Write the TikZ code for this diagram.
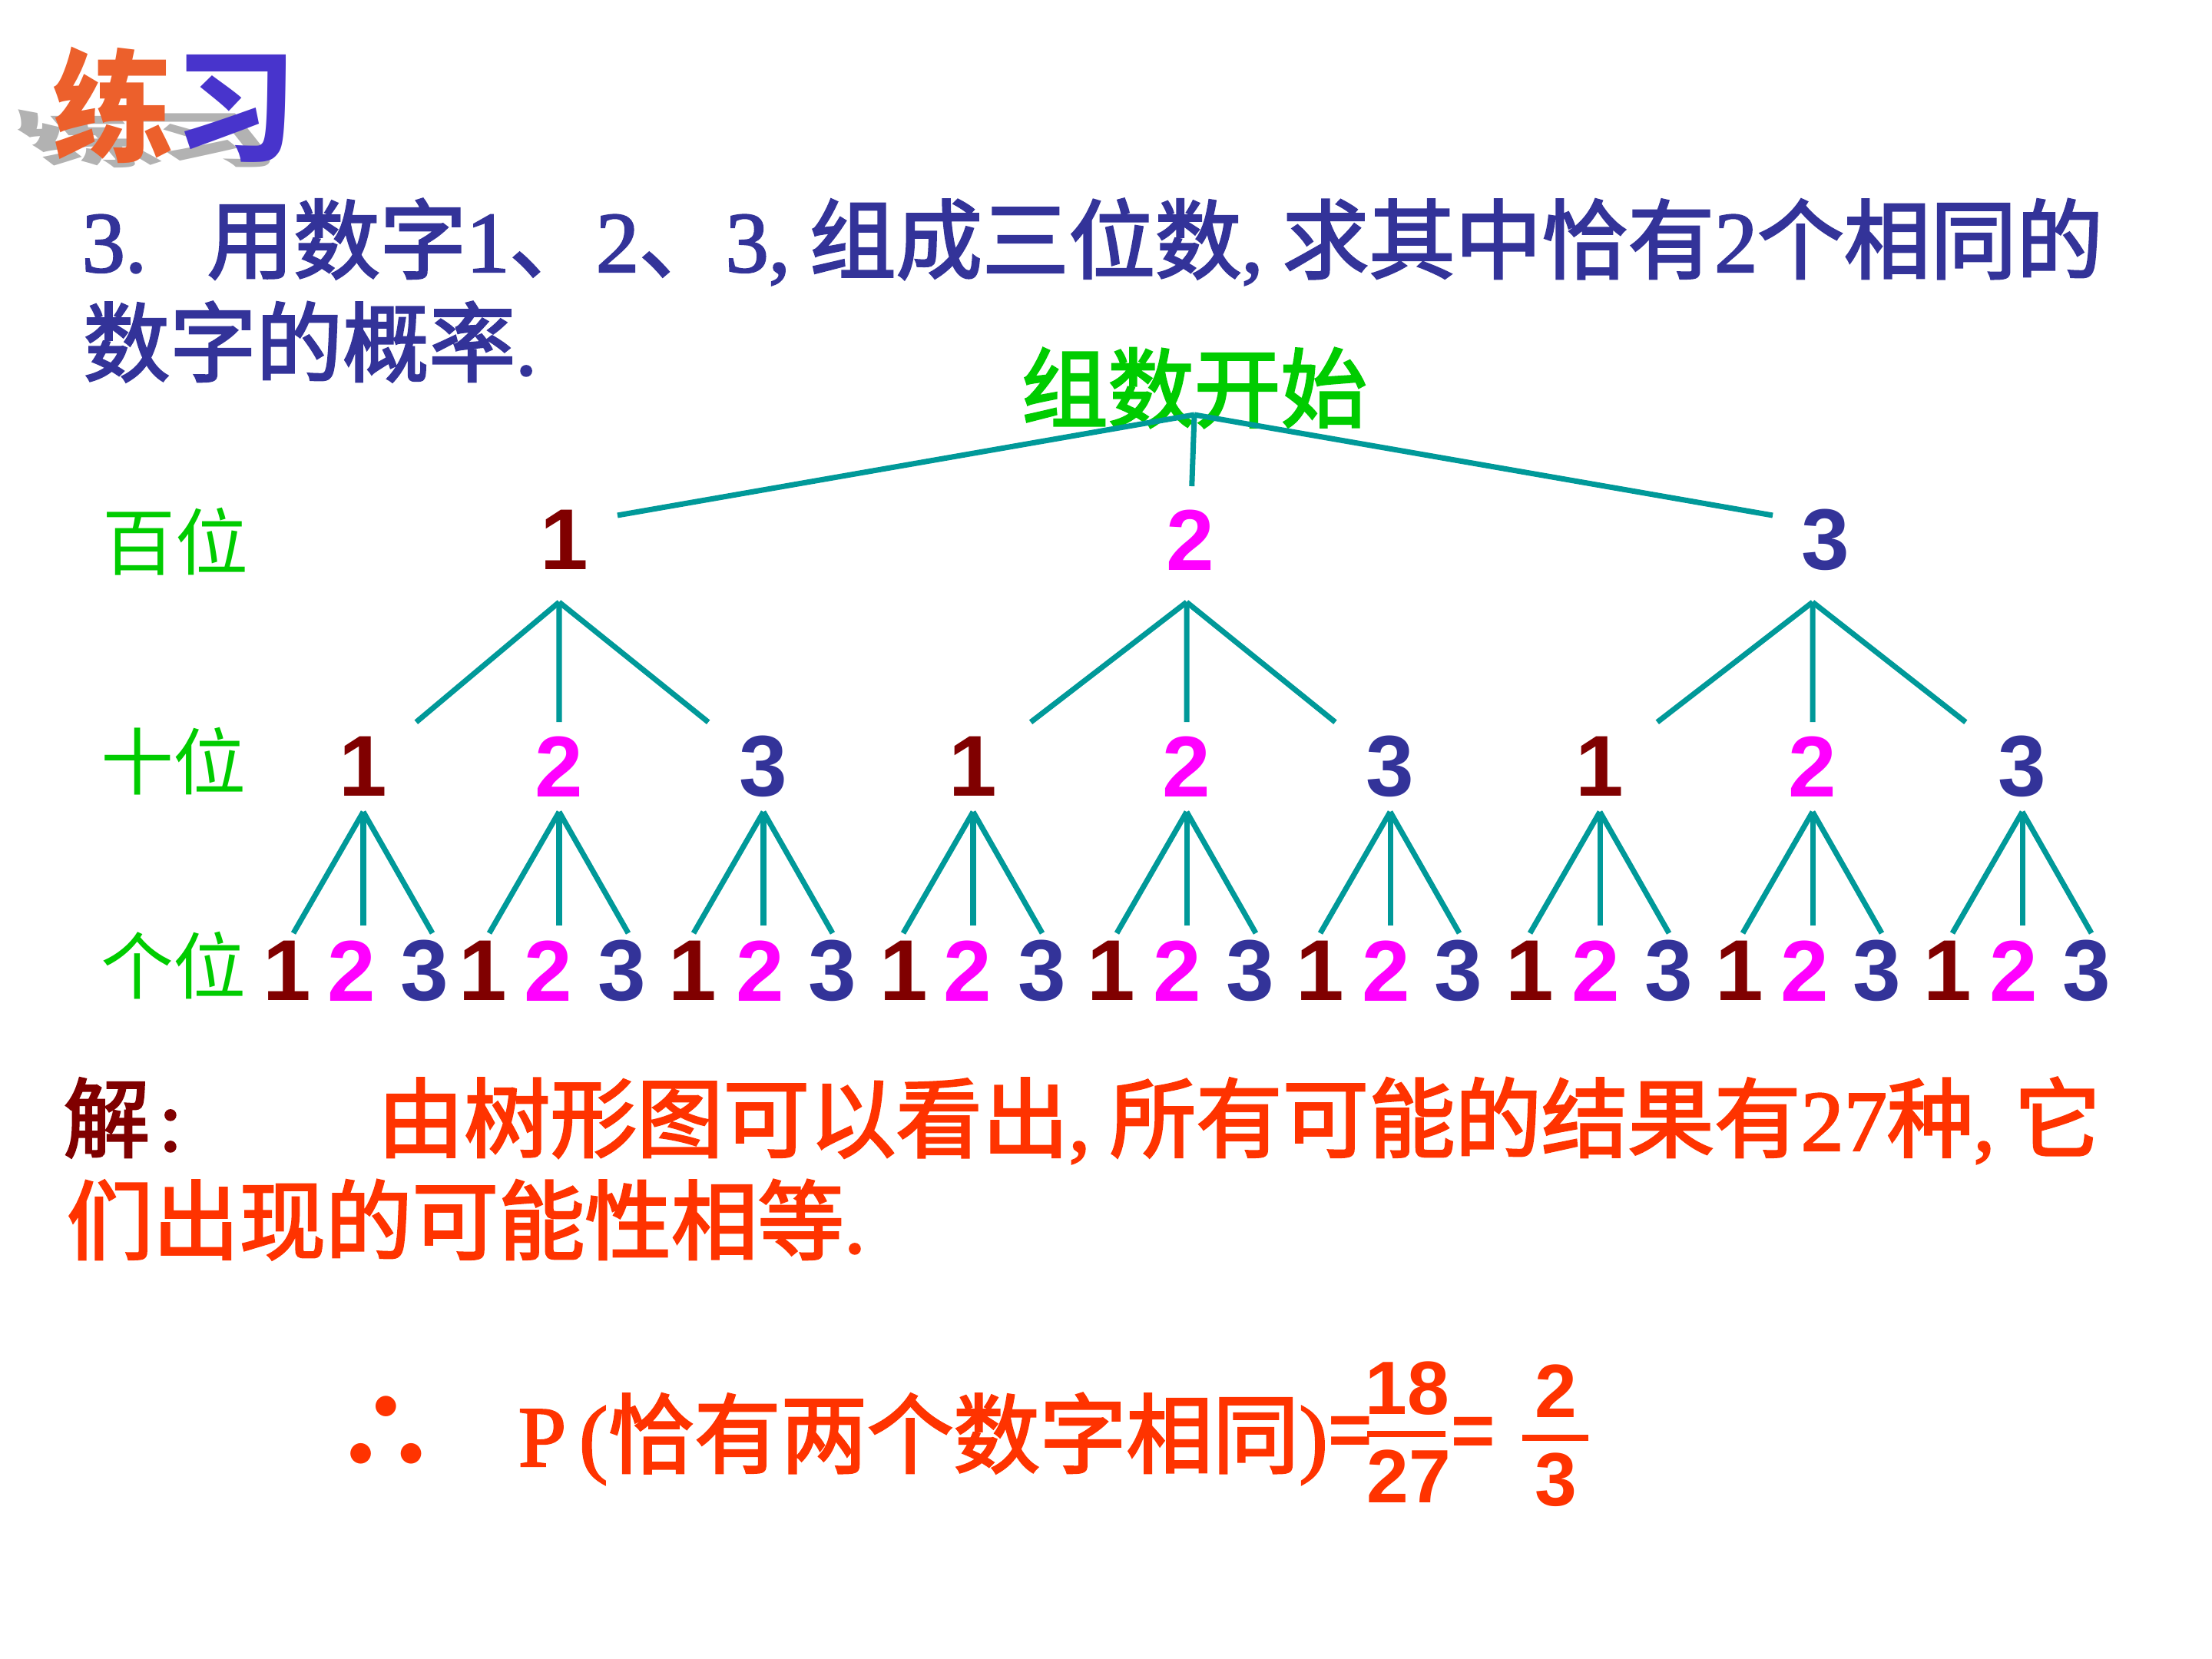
\documentclass[tikz,border=0pt]{standalone}
\usepackage{fontspec}
\setmainfont{Liberation Serif}[FakeBold=2]
\setsansfont{Liberation Sans}
\newfontfamily\cjk[FakeBold=2.5]{Noto Sans CJK SC}
\newfontfamily\cjklight{Noto Sans CJK SC}
\usetikzlibrary{calc}
\definecolor{titleblue}{RGB}{51,51,153}
\definecolor{lvlgreen}{RGB}{0,204,0}
\definecolor{col1}{RGB}{128,0,0}
\definecolor{col2}{RGB}{255,0,255}
\definecolor{col3}{RGB}{51,51,153}
\definecolor{branchteal}{RGB}{0,153,153}
\definecolor{ansred}{RGB}{255,51,0}
\definecolor{jiered}{RGB}{128,0,0}
\definecolor{lianwarm}{RGB}{236,96,44}
\definecolor{xicool}{RGB}{72,52,204}
\newcommand{\ltn}[1]{{\rmfamily #1}}
\tikzset{
  txt/.style={inner sep=0pt,font=\cjk\fontsize{32}{38}\selectfont},
  headline/.style={txt,text=titleblue,anchor=base west},
  answer/.style={txt,text=ansred,anchor=base west},
  lvl/.style={inner sep=0pt,font=\cjklight\fontsize{27}{32}\selectfont,text=lvlgreen},
  logo/.style={inner sep=0pt,font=\cjklight\bfseries\fontsize{45}{45}\selectfont},
  digit/.style={inner sep=0pt,font=\sffamily\bfseries\fontsize{32}{36}\selectfont},
  branch/.style={draw=branchteal,line width=2pt},
  fracnum/.style={inner ysep=0pt,inner xsep=-1.2pt,font=\sffamily\bfseries\fontsize{28}{32}\selectfont,text=ansred},
  fracbar/.style={draw=ansred,line width=2.3pt},
}
\begin{document}
\begin{tikzpicture}[x=1cm,y=1cm]
  \useasboundingbox (0,0) rectangle (28.8,-21.6);
  \fill[white] (0,0) rectangle (28.8,-21.6);
  % logo
  \begin{scope}[shift={(2.22,-2.19)},xslant=-0.85,yscale=0.5]
    \node[logo,text=black!30,anchor=south,transform shape] (logoshadow) at (0,0) {练习};
  \end{scope}
  \node[logo] (logo) at (2.27,-1.37) {\textcolor{lianwarm}{练}\textcolor{xicool}{习}};
  % question
  \node[headline] (q1) at (1.06,-3.54)
    {\ltn{3.}\hspace{0.7em}用数字\ltn{1}、\ltn{2}、\ltn{3,}~组成三位数\ltn{,}~求其中恰有\ltn{2}个相同的};
  \node[headline] (q2) at (1.08,-4.88) {数字的概率\ltn{.}};
  % tree
  \node[txt,text=lvlgreen] (start) at (15.55,-5.05) {组数开始};
  \node[lvl] (lvlh) at (2.28,-7.05) {百位};
  \node[lvl] (lvlt) at (2.26,-9.91) {十位};
  \node[lvl] (lvlu) at (2.26,-12.57) {个位};
  \foreach \i/\x in {1/7.35,2/15.50,3/23.77}
    \node[digit,text=col\i] (h\i) at (\x,-7.03) {\i};
  \foreach \i/\j/\x in {1/1/4.73,1/2/7.28,1/3/9.94,2/1/12.67,2/2/15.45,2/3/18.10,
                        3/1/20.83,3/2/23.60,3/3/26.33}
    \node[digit,text=col\j] (t\i\j) at (\x,-9.98) {\j};
  \foreach \i/\j/\xa/\xb/\xc in {1/1/3.74/4.58/5.53,1/2/6.29/7.14/8.10,1/3/9.02/9.90/10.84,
        2/1/11.77/12.60/13.57,2/2/14.47/15.33/16.28,2/3/17.19/18.05/18.99,
        3/1/19.92/20.78/21.73,3/2/22.65/23.50/24.44,3/3/25.36/26.22/27.17}{
    \node[digit,text=col1] (u\i\j1) at (\xa,-12.64) {1};
    \node[digit,text=col2] (u\i\j2) at (\xb,-12.64) {2};
    \node[digit,text=col3] (u\i\j3) at (\xc,-12.64) {3};
  }
  \coordinate (fork) at ([yshift=-0.35cm]start.center);
  \draw[branch,shorten >=0.7cm] (fork) -- ([yshift=2mm]h1.center);
  \draw[branch,shorten >=0.5cm] (fork) -- ([yshift=2mm]h2.center);
  \draw[branch,shorten >=0.7cm] (fork) -- ([yshift=2mm]h3.center);
  \foreach \i in {1,2,3}{
    \coordinate (a\i) at ($(t\i2.center |- h\i.center)+(0,-0.81)$);
    \foreach \j in {1,2,3}
      \draw[branch] (a\i) -- ($(a\i)!0.73!(t\i\j)$);
  }
  \foreach \i in {1,2,3}
    \foreach \j in {1,2,3}{
      \coordinate (b\i\j) at ([yshift=-0.59cm]t\i\j.center);
      \draw[branch] (b\i\j) -- ++(-0.91,-1.58) coordinate (e\i\j1);
      \draw[branch] (b\i\j) -- ++(0,-1.48) coordinate (e\i\j2);
      \draw[branch] (b\i\j) -- ++(0.90,-1.58) coordinate (e\i\j3);
    }
  % answer
  \node[txt,text=jiered,anchor=base west] (jie) at (0.82,-14.98) {解\hspace{0.1em}\ltn{:}};
  \node[answer] (ans1) at (4.91,-14.98)
    {由树形图可以看出\ltn{,}~所有可能的结果有\ltn{27}种\ltn{,}~它};
  \node[answer] (ans2) at (0.86,-16.31) {们出现的可能性相等\ltn{.}};
  \node[txt,font=\cjklight\bfseries\fontsize{40}{40}\selectfont,text=ansred] (thus) at (5.03,-18.67) {∴};
  \node[answer] (prob) at (6.74,-19.09) {\ltn{P}\hspace{0.15em}\ltn{(}恰有两个数字相同\ltn{)}};
  \node[fracnum] (eq1) at (17.58,-18.70) {=};
  \node[fracnum] (n18) at (18.32,-18.08) {18};
  \node[fracnum] (d27) at (18.34,-19.22) {27};
  \node[fracnum] (eq2) at (19.18,-18.71) {=};
  \node[fracnum] (n2) at (20.26,-18.11) {2};
  \node[fracnum] (d3) at (20.26,-19.27) {3};
  \draw[fracbar] (17.80,-18.67) -- (18.82,-18.67);
  \draw[fracbar] (19.82,-18.72) -- (20.68,-18.72);
\end{tikzpicture}
\end{document}
